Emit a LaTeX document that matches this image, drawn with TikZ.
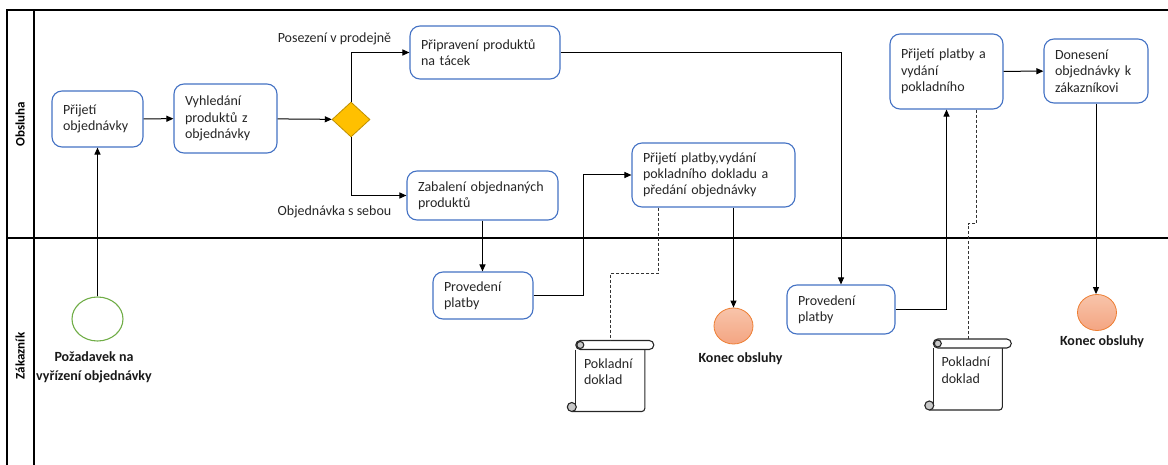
\documentclass[tikz,border=0pt]{standalone}
\usepackage{fontspec}
\setmainfont{Carlito}
\usetikzlibrary{shapes.geometric,arrows.meta}

\definecolor{taskblue}{HTML}{4472C4}
\definecolor{gatefill}{HTML}{FFC000}
\definecolor{gatedraw}{HTML}{BF9000}
\definecolor{startgreen}{HTML}{70AD47}
\definecolor{endedge}{HTML}{ED7D31}
\definecolor{endtop}{HTML}{F8C4AA}
\definecolor{endbottom}{HTML}{F4A582}
\definecolor{scrollgray}{HTML}{C8C8C8}

% rolled paper drawn round a receipt node
\newcommand{\docscroll}[1]{%
  \begin{scope}[shift={(#1.north west)}]
    \draw[scrolledge, rounded corners=3pt] (69,9) -- (69,71) -- (-4,71);
    \draw[scrolledge] (0,9) -- (0,66);
    \draw[scrolledge, fill=scrollgray] (-4,66.5) circle[radius=4.5];
    \draw[scrolledge, fill=white, rounded corners=4.5pt] (0,0) rectangle (78,9);
    \draw[scrolledge, fill=scrollgray] (4.5,4.5) circle[radius=3.5];
  \end{scope}}

\begin{document}
\begin{tikzpicture}[x=1pt, y=-1pt,
    task/.style={draw=taskblue, line width=1.1pt, rounded corners=10pt, fill=white, align=left, inner xsep=11pt, inner ysep=0pt, text=black!85, font=\fontsize{14}{16.3}\selectfont},
    gateway/.style={diamond, draw=gatedraw, fill=gatefill, line width=0.8pt, minimum width=38pt, minimum height=35pt, inner sep=0pt},
    startevent/.style={ellipse, draw=startgreen, line width=1.1pt, minimum width=51pt, minimum height=44pt, inner sep=0pt},
    endevent/.style={ellipse, draw=endedge, line width=0.8pt, top color=endtop, bottom color=endbottom, minimum width=39pt, minimum height=36pt, inner sep=0pt},
    receipt/.style={anchor=north, align=left, inner xsep=8pt, inner ysep=0pt, text width=53pt, minimum height=62pt, text=black!85, font=\fontsize{14}{16.3}\selectfont},
    scrolledge/.style={line width=1.1pt, draw=black!85},
    eventlabel/.style={font=\bfseries\fontsize{14}{19}\selectfont, align=center, text=black!90},
    branchlabel/.style={font=\fontsize{14}{17}\selectfont, text=black!85},
    lanelabel/.style={rotate=90, font=\bfseries\fontsize{13}{15}\selectfont},
    arrow/.style={-{Triangle[length=7pt,width=6pt]}, line width=1pt},
    assoc/.style={dashed, dash pattern=on 3pt off 2pt, line width=0.9pt, black!80}
]
    \useasboundingbox (0,0) rectangle (1168,465);

    % Swimlanes
    \draw[line width=1.6pt] (1168,10) -- (7,10) -- (7,465);
    \draw[line width=1.2pt] (34,10) -- (34,465);
    \draw[line width=2.2pt] (7,238) -- (1168,238);
    \node[lanelabel] (laneStaff) at (20,124) {Obsluha};
    \node[lanelabel] (laneCustomer) at (20,356) {Zákazník};

    % Staff lane
    \node[task, text width=69pt, minimum height=56pt] (take) at (97.5,119) {Přijetí\\objednávky};
    \node[task, text width=81pt, minimum height=69pt] (search) at (225.5,118.5) {Vyhledání\\produktů z\\objednávky};
    \node[gateway] (gate) at (351,119.5) {};
    \node[branchlabel] (dineIn) at (334.5,39) {Posezení v prodejně};
    \node[branchlabel] (takeAway) at (334.5,212) {Objednávka s sebou};
    \node[task, text width=128pt, minimum height=53pt] (tray) at (485,52.5) {Připravení produktů\\na tácek};
    \node[task, text width=129pt, minimum height=49pt] (pack) at (482.5,195.5) {Zabalení objednaných\\produktů};
    \node[task, text width=141pt, minimum height=64pt] (handover) at (713.5,175) {Přijetí platby,vydání\\pokladního dokladu a\\předání objednávky};
    \node[task, text width=91pt, minimum height=75pt] (cashier) at (946.5,71.5) {Přijetí platby a\\vydání\\pokladního};
    \node[task, text width=82pt, minimum height=64pt] (deliver) at (1096,71) {Donesení\\objednávky k\\zákazníkovi};

    % Customer lane
    \node[startevent] (start) at (97.5,319) {};
    \node[eventlabel] (startLabel) at (94,367.5) {Požadavek na\\vyřízení objednávky};
    \node[task, text width=78pt, minimum height=47pt] (payA) at (483,295.5) {Provedení\\platby};
    \node[task, text width=86pt, minimum height=49pt] (payB) at (841,309.5) {Provedení\\platby};
    \node[receipt] (receiptA) at (610.5,340.5) {Pokladní\\doklad};
    \node[receipt] (receiptB) at (968,339) {Pokladní\\doklad};
    \docscroll{receiptA}
    \docscroll{receiptB}
    \node[endevent] (endA) at (733.5,326) {};
    \node[eventlabel] (endALabel) at (740.5,359) {Konec obsluhy};
    \node[endevent] (endB) at (1097,312.5) {};
    \node[eventlabel] (endBLabel) at (1102,342) {Konec obsluhy};

    % Flows
    \draw[arrow] (start) -- (take);
    \draw[arrow] (take) -- (search);
    \draw[arrow] (search) -- (gate);
    \draw[arrow] (gate.north) |- (tray.west);
    \draw[arrow] (gate.south) |- (pack.west);
    \draw[arrow] (tray.east) -| (payB.north);
    \draw[arrow] (pack.south) -- (pack.south |- payA.north);
    \draw[arrow] (payA.east) -- ++(50,0) |- (handover.west);
    \draw[arrow] (endA |- handover.south) -- (endA);
    \draw[arrow] (payB.east) -| (cashier.south);
    \draw[arrow] (cashier) -- (deliver);
    \draw[arrow] (deliver.south) -- (deliver.south |- endB.north);

    % Associations to the receipts
    \draw[assoc] ([xshift=27pt]handover.south west) -- ++(0,66) -| (receiptA.north);
    \draw[assoc] ([xshift=87pt]cashier.south west) -- ++(0,114) -| (receiptB.north);
\end{tikzpicture}
\end{document}
